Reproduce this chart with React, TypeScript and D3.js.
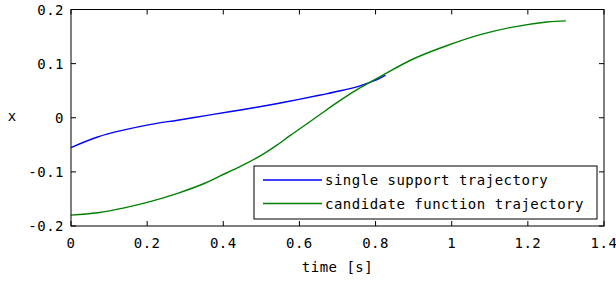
import React from 'react';
import * as d3 from 'd3';

// single support trajectory (blue)
const supportTime = [0, 0.07, 0.14, 0.21, 0.28, 0.35, 0.42, 0.48, 0.57, 0.655, 0.708, 0.761, 0.795, 0.826];
const supportX = [-0.055, -0.0355, -0.0225, -0.0122, -0.0045, 0.0035, 0.0115, 0.0185, 0.03, 0.042, 0.0498, 0.0595, 0.068, 0.0785];

// candidate function trajectory (green)
const candTime = [0, 0.07, 0.14, 0.21, 0.28, 0.35, 0.392, 0.445, 0.497, 0.54, 0.576, 0.62, 0.655, 0.708, 0.761, 0.813, 0.9, 0.99, 1.08, 1.16, 1.25, 1.3];
const candX = [-0.18, -0.1755, -0.1665, -0.1545, -0.1396, -0.1215, -0.1075, -0.09, -0.0705, -0.051, -0.0325, -0.011, 0.0065, 0.0325, 0.056, 0.0765, 0.109, 0.134, 0.1545, 0.1675, 0.177, 0.179];

const xTicks = [0, 0.2, 0.4, 0.6, 0.8, 1, 1.2, 1.4];
const yTicks = [-0.2, -0.1, 0, 0.1, 0.2];
const legendLabels = ['single support trajectory', 'candidate function trajectory'];
const colors = ['#0000ff', '#008000'];

const W = 616;
const H = 282;
const left = 71, right = 604, top = 9.5, bottom = 226;
const font = '"DejaVu Sans Mono", monospace';

const fmt = (d: number) => String(+d.toFixed(1));

export default function App() {
  const x = d3.scaleLinear().domain([0, 1.4]).range([left, right]);
  const y = d3.scaleLinear().domain([-0.2, 0.2]).range([bottom, top]);

  const line = d3.line<[number, number]>()
    .x(d => x(d[0]))
    .y(d => y(d[1]))
    .curve(d3.curveCatmullRom.alpha(0.5));

  const series = [
    supportTime.map((t, i) => [t, supportX[i]] as [number, number]),
    candTime.map((t, i) => [t, candX[i]] as [number, number]),
  ];

  const tick = 5;
  const lgX = 254, lgY = 166, lgW = 343, lgH = 53;

  return (
    <svg width={W} height={H} style={{ position: 'absolute', left: 0, top: 0, background: '#fff' }}
      fontFamily={font} fontSize={14}>
      {series.map((s, i) => (
        <path key={i} d={line(s) || ''} fill="none" stroke={colors[i]} strokeWidth={1.4} />
      ))}

      {/* axes box */}
      <rect x={left} y={top} width={right - left} height={bottom - top} fill="none" stroke="#000" strokeWidth={1} />

      {xTicks.map(t => (
        <g key={'x' + t}>
          <line x1={x(t)} x2={x(t)} y1={bottom} y2={bottom - tick} stroke="#000" />
          <line x1={x(t)} x2={x(t)} y1={top} y2={top + tick} stroke="#000" />
          <text x={x(t)} y={248} textAnchor="middle" letterSpacing={0.5}>{fmt(t)}</text>
        </g>
      ))}
      {yTicks.map(t => (
        <g key={'y' + t}>
          <line x1={left} x2={left + tick} y1={y(t)} y2={y(t)} stroke="#000" />
          <line x1={right} x2={right - tick} y1={y(t)} y2={y(t)} stroke="#000" />
          <text x={64} y={y(t) + 5} textAnchor="end" letterSpacing={0.5}>{fmt(t)}</text>
        </g>
      ))}

      <text x={(left + right) / 2} y={272} textAnchor="middle" letterSpacing={0.5}>time [s]</text>
      <text x={12} y={121} textAnchor="middle">x</text>

      {/* legend */}
      <rect x={lgX} y={lgY} width={lgW} height={lgH} fill="#fff" stroke="#000" strokeWidth={1} />
      {legendLabels.map((lab, i) => (
        <g key={lab}>
          <line x1={263} x2={322} y1={180 + i * 23.5} y2={180 + i * 23.5} stroke={colors[i]} strokeWidth={1.4} />
          <text x={325} y={185 + i * 23.5} letterSpacing={0.5}>{lab}</text>
        </g>
      ))}
    </svg>
  );
}
